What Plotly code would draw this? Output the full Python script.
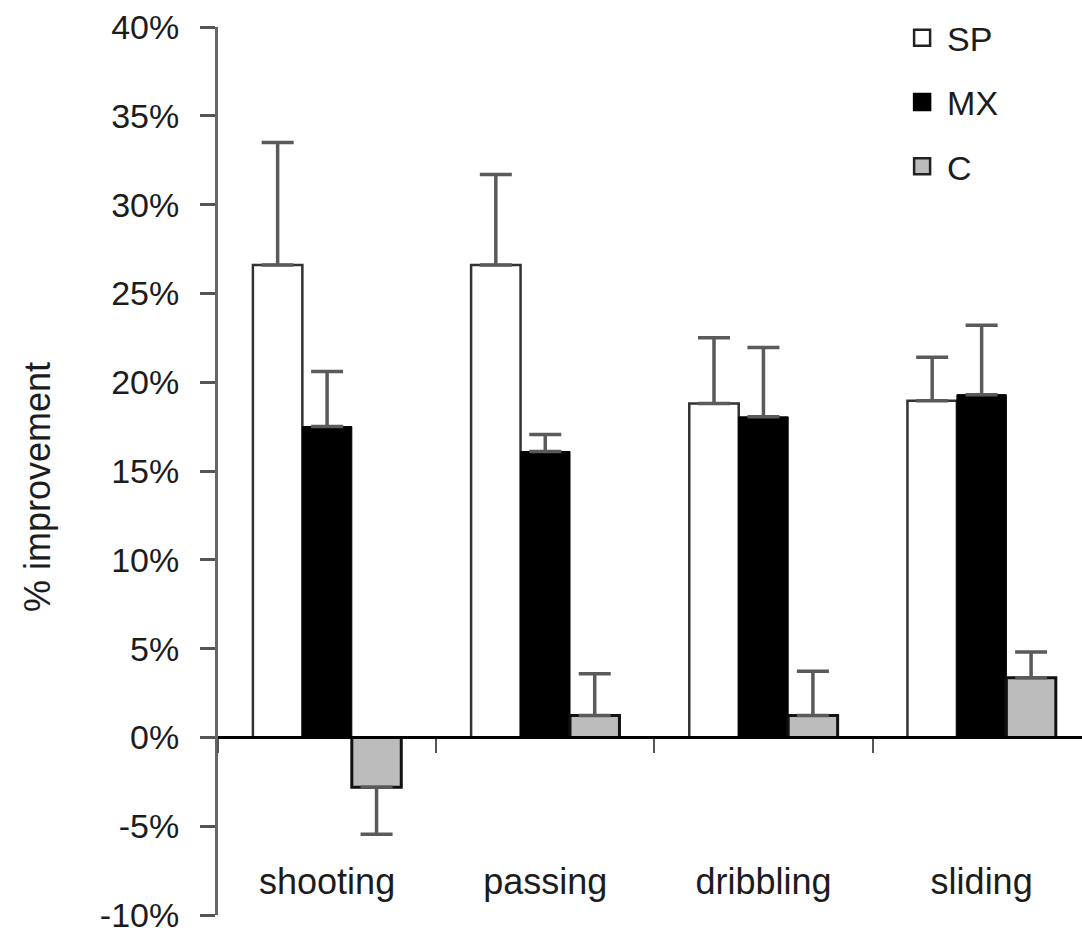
import plotly.graph_objects as go

categories = ["shooting", "passing", "dribbling", "sliding"]
series_names = ["SP", "MX", "C"]

sp_values = [26.6, 26.6, 18.8, 18.95]
sp_err_plus = [6.9, 5.1, 3.7, 2.45]
sp_err_minus = [0, 0, 0, 0]

mx_values = [17.5, 16.1, 18.05, 19.3]
mx_err_plus = [3.1, 0.95, 3.9, 3.9]
mx_err_minus = [0, 0, 0, 0]

c_values = [-2.8, 1.23, 1.23, 3.36]
c_err_plus = [0, 2.35, 2.5, 1.45]
c_err_minus = [2.65, 0, 0, 0]

y_ticks = [-10, -5, 0, 5, 10, 15, 20, 25, 30, 35, 40]
y_tick_labels = ["-10%", "-5%", "0%", "5%", "10%", "15%", "20%", "25%", "30%", "35%", "40%"]
y_title = "% improvement"

FONT = "Liberation Sans, Arial, sans-serif"
TXT = "#1c1c1c"

styles = [
    dict(fill="#ffffff", line="#333333", lw=2.5),
    dict(fill="#000000", line="#000000", lw=1),
    dict(fill="#bcbcbc", line="#111111", lw=3),
]
data = [
    (sp_values, sp_err_plus, sp_err_minus),
    (mx_values, mx_err_plus, mx_err_minus),
    (c_values, c_err_plus, c_err_minus),
]

fig = go.Figure()
for name, st, (vals, ep, em) in zip(series_names, styles, data):
    fig.add_trace(go.Bar(
        x=categories, y=vals, name=name, showlegend=False,
        marker=dict(color=st["fill"], line=dict(color=st["line"], width=st["lw"])),
        error_y=dict(type="data", symmetric=False, array=ep, arrayminus=em,
                     color="#5a5a5a", thickness=3.5, width=16),
    ))

for name, st in zip(series_names, styles):
    fig.add_trace(go.Scatter(
        x=[None], y=[None], mode="markers", name=name, legendgroup=name,
        marker=dict(symbol="square", size=16, color=st["fill"],
                    line=dict(color="#222222" if name != "MX" else "#000000", width=2.5)),
    ))

fig.add_annotation(
    text=y_title, textangle=-90, showarrow=False,
    xref="paper", yref="paper", x=0, y=0.482, xanchor="center", yanchor="middle",
    xshift=-180, font=dict(family=FONT, size=36, color=TXT),
)

fig.update_layout(
    width=1082, height=928,
    margin=dict(l=218, r=0, t=27, b=13, autoexpand=False),
    paper_bgcolor="white", plot_bgcolor="white",
    barmode="group", bargap=0.32, bargroupgap=0,
    font=dict(family=FONT, size=32, color=TXT),
    showlegend=True,
    legend=dict(x=0.786, y=1.02, xanchor="left", yanchor="top",
                font=dict(family=FONT, size=34, color=TXT),
                bgcolor="rgba(0,0,0,0)", itemsizing="trace",
                tracegroupgap=17, itemwidth=40),
    xaxis=dict(
        type="category", range=[-0.5, 3.46],
        anchor="free", position=0.2, automargin=False,
        showline=True, linecolor="#000000", linewidth=3,
        showgrid=False, zeroline=False,
        tickson="boundaries", ticks="outside", ticklen=14, tickwidth=2, tickcolor="#555555",
        tickfont=dict(family=FONT, size=36, color=TXT),
        ticklabelstandoff=111,
    ),
    yaxis=dict(
        range=[-10, 40], tickmode="array", tickvals=y_ticks, ticktext=y_tick_labels,
        automargin=False,
        showline=True, linecolor="#666666", linewidth=3,
        showgrid=False, zeroline=False,
        ticks="outside", ticklen=15, tickwidth=2.5, tickcolor="#555555",
        tickfont=dict(family=FONT, size=34, color=TXT),
        ticklabelstandoff=14, ticklabeloverflow="allow",
    ),
)

fig.write_html("out.html")
